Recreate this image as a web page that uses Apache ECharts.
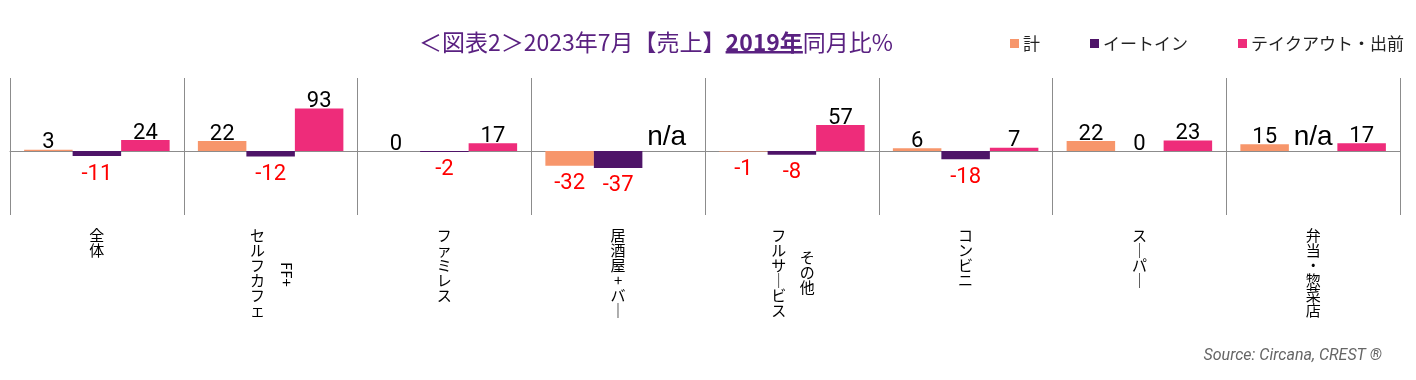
<!DOCTYPE html>
<html><head><meta charset="utf-8">
<script src="https://cdn.jsdelivr.net/npm/echarts@6/dist/echarts.min.js"></script>
<style>html,body{margin:0;padding:0;background:#fff}#c{width:1416px;height:380px}</style>
</head><body><div id="c"></div>
<script>
// ---- data ----
const categories = ['全体', 'FF+\nセルフカフェ', 'ファミレス', '居酒屋+バー', 'その他\nフルサービス', 'コンビニ', 'スーパー', '弁当・惣菜店'];
const seriesNames = ['計', 'イートイン', 'テイクアウト・出前'];
const totalValues   = [3, 22, 0, -32, -1, 6, 22, 15];
const eatInValues   = [-11, -12, -2, -37, -8, -18, 0, null];
const takeoutValues = [24, 93, 17, null, 57, 7, 23, 17];
const naText = 'n/a';
const titleMain = '＜図表2＞2023年7月【売上】';
const titleYear = '2019年';
const titleTail = '同月比%';
const sourceText = 'Source: Circana, CREST ®';

// ---- styling ----
const colors = ['#F7966B', '#4E1468', '#EE2C7A'];
const purple = '#5A2181';
const JP = "'Noto Sans CJK JP', sans-serif";

function toData(arr) {
  return arr.map(v => {
    if (v == null) return { value: 0, label: { formatter: naText, fontFamily: "'Liberation Sans', Arial, sans-serif", fontSize: 28, lineHeight: 28, color: '#000', position: 'top', distance: 0 } };
    if (v < 0) return { value: v, label: { position: 'bottom', color: '#FF0000', distance: 7 } };
    return { value: v };
  });
}
function vert(s) { return s.split('').map(ch => ch === 'ー' ? '｜' : ch).join('\n'); }
const isLatin = s => /^[\x20-\x7E]+$/.test(s);
const parts = c => c.split('\n');

const labelBase = { interval: 0, fontFamily: JP, fontSize: 15, lineHeight: 15, color: '#000' };
function labelAxis(labelOpt) {
  return {
    type: 'category', data: categories, position: 'bottom', gridIndex: 0,
    axisLine: { show: false, onZero: false }, axisTick: { show: false }, splitLine: { show: false },
    axisLabel: Object.assign({}, labelBase, labelOpt)
  };
}

const chart = echarts.init(document.getElementById('c'), null, { renderer: 'canvas' });
chart.setOption({
  animation: false,
  color: colors,
  title: [{
    text: titleMain + '{u|' + titleYear + '}' + titleTail,
    left: 414, top: 25,
    textStyle: {
      fontFamily: JP, fontSize: 23, lineHeight: 24, fontWeight: 'normal', color: purple,
      rich: {
        u: {
          fontFamily: JP, fontSize: 23, lineHeight: 24, fontWeight: 'bold', color: purple,
          backgroundColor: { type: 'linear', x: 0, y: 0, x2: 0, y2: 1, colorStops: [
            { offset: 0, color: 'rgba(0,0,0,0)' }, { offset: 0.9, color: 'rgba(0,0,0,0)' },
            { offset: 0.9, color: purple }, { offset: 1, color: purple }] }
        }
      }
    }
  }, {
    text: sourceText, right: 29, top: 343,
    textStyle: { fontFamily: 'Roboto, sans-serif', fontStyle: 'italic', fontSize: 16, fontWeight: 'normal', color: '#666' }
  }],
  legend: {
    data: seriesNames, left: 1005, top: 30, icon: 'rect', itemWidth: 9, itemHeight: 9, itemGap: 50,
    textStyle: { fontFamily: JP, fontSize: 17, color: '#222', padding: [0, 0, 0, -1] }
  },
  grid: { left: 10, right: 16, top: 78, bottom: 165, containLabel: false },
  xAxis: [
    {
      type: 'category', data: categories, position: 'bottom',
      axisLine: { show: true, onZero: true, lineStyle: { color: '#8c8c8c', width: 1 } },
      axisTick: { show: false },
      axisLabel: { show: false, interval: 0 },
      splitLine: { show: true, interval: 0, lineStyle: { color: '#8c8c8c', width: 1 } }
    },
    labelAxis({ margin: 13, formatter: v => parts(v).length === 1 ? vert(v) : '' }),
    labelAxis({ margin: 13, padding: [0, 26, 0, 0], formatter: v => parts(v).length > 1 ? vert(parts(v)[1]) : '' }),
    labelAxis({ margin: 35, padding: [0, 0, 0, 31], formatter: v => (parts(v).length > 1 && !isLatin(parts(v)[0])) ? vert(parts(v)[0]) : '' }),
    labelAxis({ margin: 47, rotate: -90, rich: { sp: { lineHeight: 32, height: 32 } },
      formatter: v => (parts(v).length > 1 && isLatin(parts(v)[0])) ? parts(v)[0] + '\n{sp| }' : '' })
  ],
  yAxis: { type: 'value', min: -140, max: 160, show: false },
  series: [totalValues, eatInValues, takeoutValues].map((arr, i) => ({
    name: seriesNames[i], type: 'bar', xAxisIndex: 0,
    barWidth: 48.5, barGap: '0%',
    data: toData(arr),
    label: { show: true, position: 'top', distance: -4, fontFamily: 'Roboto, sans-serif', fontSize: 22, lineHeight: 22, color: '#000', formatter: '{c}' }
  }))
});
</script></body></html>
